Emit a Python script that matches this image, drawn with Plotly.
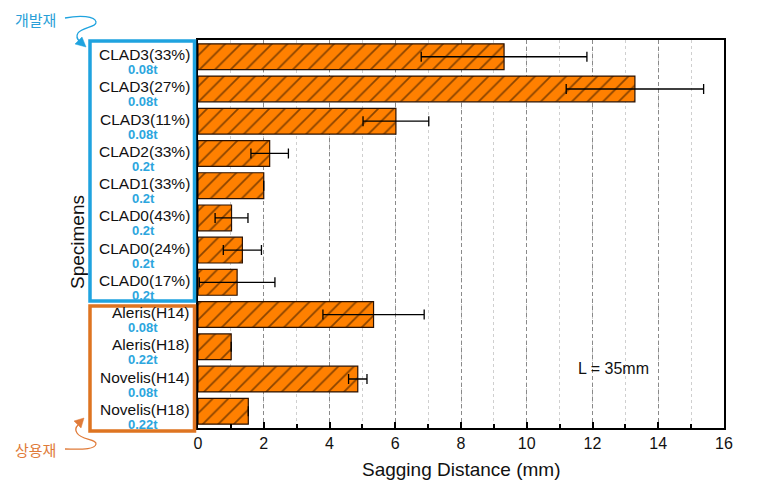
import plotly.graph_objects as go

# ---------------- data ----------------
specimens = ["CLAD3(33%)", "CLAD3(27%)", "CLAD3(11%)", "CLAD2(33%)", "CLAD1(33%)",
             "CLAD0(43%)", "CLAD0(24%)", "CLAD0(17%)",
             "Aleris(H14)", "Aleris(H18)", "Novelis(H14)", "Novelis(H18)"]
thickness = ["0.08t", "0.08t", "0.08t", "0.2t", "0.2t",
             "0.2t", "0.2t", "0.2t",
             "0.08t", "0.22t", "0.08t", "0.22t"]
sagging = [9.31, 13.29, 6.02, 2.18, 2.0, 1.02, 1.35, 1.19, 5.34, 1.01, 4.86, 1.53]
sag_err = [2.52, 2.09, 1.0, 0.57, 0.0, 0.5, 0.58, 1.15, 1.54, 0.0, 0.28, 0.0]
x_ticks = [0, 2, 4, 6, 8, 10, 12, 14, 16]
group_labels = ["개발재", "상용재"]
note_text = "L = 35mm"

# ---------------- layout constants ----------------
OFF = 8                      # page body margin of the html page
W, H = 765 - 2 * OFF, 497 - 2 * OFF
PLOT_X0, PLOT_X1 = 198, 724  # screenshot pixels of the plot area
PLOT_Y0, PLOT_Y1 = 40, 428
L_M = PLOT_X0 - OFF
T_M = PLOT_Y0 - OFF
R_M = W - (PLOT_X1 - OFF)
B_M = H - (PLOT_Y1 - OFF)
PW = PLOT_X1 - PLOT_X0
PH = PLOT_Y1 - PLOT_Y0


def px(x):
    return (x - PLOT_X0) / PW


def py(y):
    return (PLOT_Y1 - y) / PH


def path(cmds):
    out = []
    for c in cmds:
        if isinstance(c, str):
            out.append(c)
        else:
            out.append(f"{px(c[0]):.5f},{py(c[1]):.5f}")
    return " ".join(out)


FONT = "Arial, 'Liberation Sans', sans-serif"
KFONT = "'Noto Sans CJK KR', 'Noto Sans CJK SC', sans-serif"
BLUE = "#1FA3DF"
ORANGE_BOX = "#DE7421"
ORANGE_TXT = "#E07B39"

fig = go.Figure()
fig.add_trace(go.Bar(
    x=sagging,
    y=specimens,
    orientation="h",
    width=0.8,
    marker=dict(
        color="#FF8000",
        line=dict(color="#2a1000", width=1.2),
        pattern=dict(shape="/", fgcolor="#140600", bgcolor="#FF8000",
                     size=11, solidity=0.16),
    ),
    error_x=dict(type="data", array=sag_err, visible=True,
                 color="black", thickness=1.3, width=5),
    showlegend=False,
))

annotations = []
for name, t in zip(specimens, thickness):
    annotations.append(dict(
        x=px(192), xref="paper", y=name, yref="y", yshift=2,
        text=name, showarrow=False, xanchor="right", yanchor="middle",
        font=dict(family=FONT, size=15.5, color="#111"),
    ))
    annotations.append(dict(
        x=px(143), xref="paper", y=name, yref="y", yshift=-13,
        text=f"<b>{t}</b>", showarrow=False, xanchor="center", yanchor="middle",
        font=dict(family=FONT, size=13, color="#2CA6DE"),
    ))

annotations += [
    dict(x=px(78), y=py(242), xref="paper", yref="paper", text="Specimens",
         textangle=-90, showarrow=False, xanchor="center", yanchor="middle",
         font=dict(family=FONT, size=19, color="#111")),
    dict(x=px(461), y=py(469), xref="paper", yref="paper",
         text="Sagging Distance (mm)", showarrow=False,
         xanchor="center", yanchor="middle",
         font=dict(family=FONT, size=19, color="#111")),
    dict(x=px(613), y=py(368), xref="paper", yref="paper", text=note_text,
         showarrow=False, xanchor="center", yanchor="middle",
         font=dict(family=FONT, size=16, color="#111")),
    dict(x=px(35), y=py(19.5), xref="paper", yref="paper", text=group_labels[0],
         showarrow=False, xanchor="center", yanchor="middle",
         font=dict(family=KFONT, size=15, color="#2A9FD8")),
    dict(x=px(35), y=py(449), xref="paper", yref="paper", text=group_labels[1],
         showarrow=False, xanchor="center", yanchor="middle",
         font=dict(family=KFONT, size=15, color=ORANGE_TXT)),
]

shapes = [
    # group boxes
    dict(type="rect", xref="paper", yref="paper",
         x0=px(90), x1=px(194.5), y0=py(41), y1=py(301),
         line=dict(color=BLUE, width=3.5), layer="above"),
    dict(type="rect", xref="paper", yref="paper",
         x0=px(90), x1=px(194.5), y0=py(306), y1=py(431),
         line=dict(color=ORANGE_BOX, width=3.5), layer="above"),
    # curly arrow lines
    dict(type="path", xref="paper", yref="paper",
         path=path(["M", (65, 18), "C", (80, 15), (95, 16), (96, 22),
                    "C", (97, 27), (82, 27), (78, 33),
                    "C", (76, 36), (77, 39), (80, 42)]),
         line=dict(color=BLUE, width=1.3)),
    dict(type="path", xref="paper", yref="paper",
         path=path(["M", (86, 47), "L", (75, 44), "L", (82, 37), "Z"]),
         line=dict(color=BLUE, width=0.5), fillcolor=BLUE),
    dict(type="path", xref="paper", yref="paper",
         path=path(["M", (65, 449), "C", (80, 449), (95, 450), (96, 444),
                    "C", (97, 439), (81, 440), (77, 433),
                    "C", (75, 430), (76, 427), (78, 425)]),
         line=dict(color=ORANGE_TXT, width=1.3)),
    dict(type="path", xref="paper", yref="paper",
         path=path(["M", (84, 418), "L", (74, 421), "L", (81, 428), "Z"]),
         line=dict(color=ORANGE_TXT, width=0.5), fillcolor=ORANGE_TXT),
]

fig.update_layout(
    width=W, height=H, autosize=False,
    margin=dict(l=L_M, r=R_M, t=T_M, b=B_M, autoexpand=False),
    paper_bgcolor="white", plot_bgcolor="white",
    bargap=0.2,
    annotations=annotations,
    shapes=shapes,
    xaxis=dict(
        range=[0, 16], tickvals=x_ticks,
        ticks="inside", ticklen=6, tickwidth=1.5, tickcolor="black",
        showline=True, linecolor="black", linewidth=2, mirror=True,
        showgrid=True, gridcolor="#8a8a8a", gridwidth=1, griddash="4px,3px",
        zeroline=False,
        tickfont=dict(family=FONT, size=16, color="#111"),
        minor=dict(dtick=1, ticks="inside", ticklen=4, tickcolor="black",
                   showgrid=True, gridcolor="#cfcfcf", griddash="dot"),
    ),
    yaxis=dict(
        categoryorder="array", categoryarray=specimens,
        range=[11.52, -0.52],
        showticklabels=False, ticks="",
        showline=True, linecolor="black", linewidth=2, mirror=True,
        showgrid=False, zeroline=False,
    ),
)

fig.write_html("out.html")
